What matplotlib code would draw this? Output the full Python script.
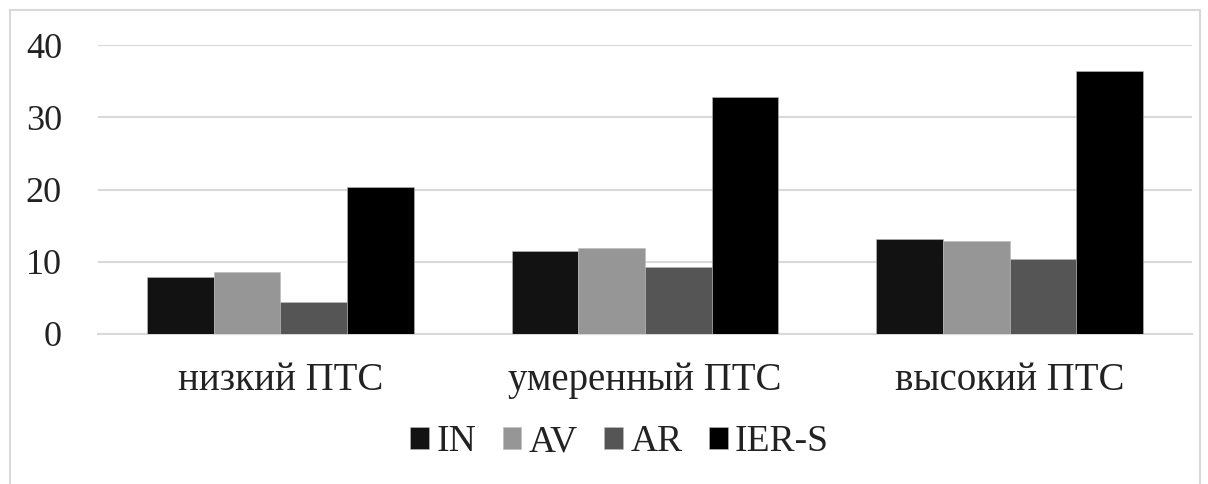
import numpy as np
import matplotlib.pyplot as plt
from matplotlib.patches import Rectangle

categories = ["низкий ПТС", "умеренный ПТС", "высокий ПТС"]
series = ["IN", "AV", "AR", "IER-S"]
in_vals = [7.9, 11.5, 13.2]
av_vals = [8.6, 11.9, 12.9]
ar_vals = [4.4, 9.3, 10.4]
iers_vals = [20.3, 32.8, 36.4]
colors = ["#121212", "#969696", "#555555", "#000000"]

plt.rcParams['font.family'] = ['Liberation Serif', 'DejaVu Serif']

fig = plt.figure(figsize=(12.08, 4.84), dpi=100)
fig.patches.append(Rectangle((10 / 1208, -0.1), 1190 / 1208, 1.1 - 10 / 484,
                             transform=fig.transFigure, fill=False,
                             edgecolor="#d9d9d9", linewidth=1.5))
ax = fig.add_axes([98 / 1208, 1 - 334 / 484, 1094 / 1208, 289 / 484])

x = np.arange(len(categories))
w = 0.183
for i, (name, vals) in enumerate(zip(series, [in_vals, av_vals, ar_vals, iers_vals])):
    ax.bar(x + (i - 1.5) * w, vals, w, color=colors[i], label=name,
           edgecolor="#bbbbbb", linewidth=0.4, zorder=3)

ax.set_xlim(-0.5, 2.5)
ax.set_ylim(0, 40)
ax.set_yticks([0, 10, 20, 30, 40])
ax.yaxis.grid(True, color="#d9d9d9", linewidth=1.5, zorder=0)
ax.set_axisbelow(True)
for s in ["top", "right", "left"]:
    ax.spines[s].set_visible(False)
ax.spines["bottom"].set_color("#d9d9d9")
ax.spines["bottom"].set_linewidth(1.5)
ax.tick_params(axis="y", length=0, pad=26, labelsize=26, labelcolor="#222222")
ax.tick_params(axis="x", length=0, pad=20, labelsize=28, labelcolor="#222222")
ax.set_xticks(x)
ax.set_xticklabels(categories)

leg = fig.legend(loc="center", bbox_to_anchor=(0.513, 1 - 442 / 484), ncol=4,
                 frameon=False, fontsize=27, handlelength=0.5, handleheight=0.5,
                 handletextpad=0.2, columnspacing=0.7)
for t in leg.get_texts():
    t.set_color("#222222")

fig.savefig("out.png", dpi=100)
